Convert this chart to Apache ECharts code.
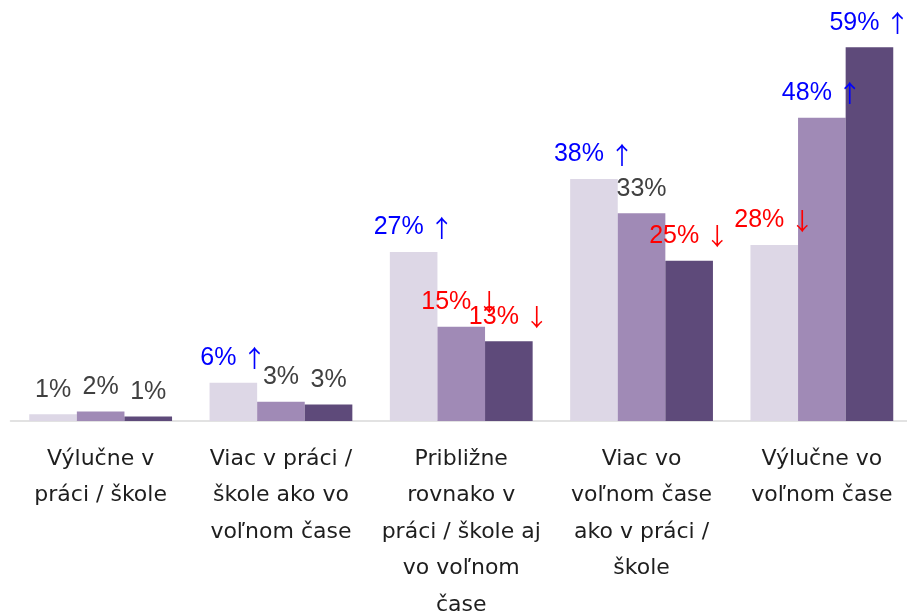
<!DOCTYPE html>
<html>
<head>
<meta charset="utf-8">
<script src="https://cdn.jsdelivr.net/npm/echarts@6/dist/echarts.min.js"></script>
<style>
  html, body { margin: 0; padding: 0; background: #fff; }
  #chart { width: 907px; height: 613px; }
</style>
</head>
<body>
<div id="chart"></div>
<script>
// kategórie (osi x)
const categories = [
  "Výlučne v\npráci / škole",
  "Viac v práci /\nškole ako vo\nvoľnom čase",
  "Približne\nrovnako v\npráci / škole aj\nvo voľnom\nčase",
  "Viac vo\nvoľnom čase\nako v práci /\nškole",
  "Výlučne vo\nvoľnom čase"
];

// hodnoty v % (odčítané z výšky stĺpcov, popisky sú zaokrúhlené)
const values1 = [1.06, 6.05, 26.7, 38.2, 27.8];
const values2 = [1.5, 3.05, 14.9, 32.8, 47.9];
const values3 = [0.7, 2.6, 12.6, 25.3, 59];

// trend pri hodnote: "up" / "down" / "" (bez zmeny)
const trend1 = ["", "up", "up", "up", "down"];
const trend2 = ["", "", "down", "", "up"];
const trend3 = ["", "", "down", "down", "up"];

const colors = ["#ddd7e6", "#a08ab6", "#5e4a7a"];
const trendColor = { up: "#0000ff", down: "#ff0000", "": "#404040" };

const chart = echarts.init(document.getElementById("chart"));

function makeSeries(values, trend, color) {
  return {
    type: "bar",
    barWidth: 47.6,
    barGap: "0%",
    itemStyle: { color: color },
    data: values.map((v, i) => ({
      value: v,
      label: {
        rich: {
          v: { color: trendColor[trend[i]], fontFamily: "Liberation Sans", fontSize: 25 },
          a: {
            color: trendColor[trend[i]],
            fontFamily: "Noto Sans CJK SC",
            fontSize: 24,
            padding: [0, 0, 0, 6]
          }
        }
      }
    })),
    label: {
      show: true,
      position: "top",
      distance: 12,
      formatter: (p) => {
        const t = trend[p.dataIndex];
        const txt = "{v|" + Math.round(p.value) + "%}";
        return txt + (t === "up" ? "{a|↑}" : t === "down" ? "{a|↓}" : "");
      }
    }
  };
}

chart.setOption({
  animation: false,
  grid: { left: 10.5, right: -5, top: 41, bottom: 192, outerBoundsMode: "none" },
  xAxis: {
    type: "category",
    data: categories,
    axisLine: { lineStyle: { color: "#d9d9d9", width: 1.5 } },
    axisTick: { show: false },
    axisLabel: {
      interval: 0,
      margin: 20,
      color: "#1e1e1e",
      fontFamily: "DejaVu Sans",
      fontSize: 22,
      lineHeight: 36.5
    }
  },
  yAxis: {
    type: "value",
    min: 0,
    max: 60,
    show: false,
    splitLine: { show: false }
  },
  series: [
    makeSeries(values1, trend1, colors[0]),
    makeSeries(values2, trend2, colors[1]),
    makeSeries(values3, trend3, colors[2])
  ]
});
</script>
</body>
</html>
